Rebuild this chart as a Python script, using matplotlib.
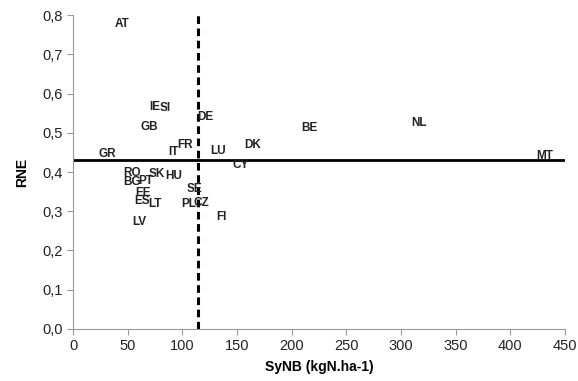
import matplotlib
matplotlib.use("Agg")
import matplotlib.pyplot as plt
from matplotlib.ticker import FuncFormatter

countries = ["AT", "IE", "SI", "DE", "GB", "FR", "IT", "LU", "DK", "GR", "CY", "BE", "NL", "MT",
             "RO", "SK", "HU", "BG", "PT", "EE", "ES", "LT", "SE", "PL", "CZ", "LV", "FI"]
synb = [44.5, 74.4, 84.0, 120.7, 69.8, 102.4, 91.8, 132.9, 164.4, 31.7, 153.4, 216.5, 316.8, 431.7,
        54.2, 77.1, 91.8, 53.7, 66.8, 64.3, 62.8, 75.0, 111.0, 105.5, 117.7, 60.4, 136.0]
rne = [0.777, 0.565, 0.562, 0.541, 0.515, 0.469, 0.450, 0.454, 0.469, 0.445, 0.417, 0.511, 0.526, 0.441,
       0.398, 0.395, 0.391, 0.375, 0.378, 0.346, 0.326, 0.318, 0.356, 0.318, 0.320, 0.273, 0.286]
mean_rne = 0.431
mean_synb = 114
x_ticks = [0, 50, 100, 150, 200, 250, 300, 350, 400, 450]
y_ticks = [0.0, 0.1, 0.2, 0.3, 0.4, 0.5, 0.6, 0.7, 0.8]

plt.rcParams['font.family'] = ['Liberation Sans', 'DejaVu Sans']
fig = plt.figure(figsize=(5.78, 3.81), dpi=100)
ax = fig.add_axes([0.1263, 0.1365, 0.8512, 0.8241])

for c, x, y in zip(countries, synb, rne):
    ax.text(x, y, c, ha='center', va='center', fontsize=8.5, fontweight='bold', color='#222222')

ax.plot([0, 450], [mean_rne, mean_rne], color='black', lw=2, solid_capstyle='butt')
ax.plot([mean_synb, mean_synb], [0, 0.8], color='black', lw=2.2, linestyle=(0, (2.5, 1.5)))

ax.set_xlim(0, 450)
ax.set_ylim(0, 0.8)
ax.set_xticks(x_ticks)
ax.set_yticks(y_ticks)
ax.yaxis.set_major_formatter(FuncFormatter(lambda v, p: f"{v:.1f}".replace('.', ',')))
for s in ['top', 'right']:
    ax.spines[s].set_visible(False)
for s in ['left', 'bottom']:
    ax.spines[s].set_color('#999999')
    ax.spines[s].set_linewidth(0.8)
ax.tick_params(axis='both', colors='#999999', labelcolor='#222222', labelsize=10.5, length=4, width=0.8)
ax.set_xlabel("SyNB (kgN.ha-1)", fontsize=10, fontweight='bold', labelpad=5)
ax.set_ylabel("RNE", fontsize=10, fontweight='bold', labelpad=9)

fig.savefig("out.png", dpi=100)
